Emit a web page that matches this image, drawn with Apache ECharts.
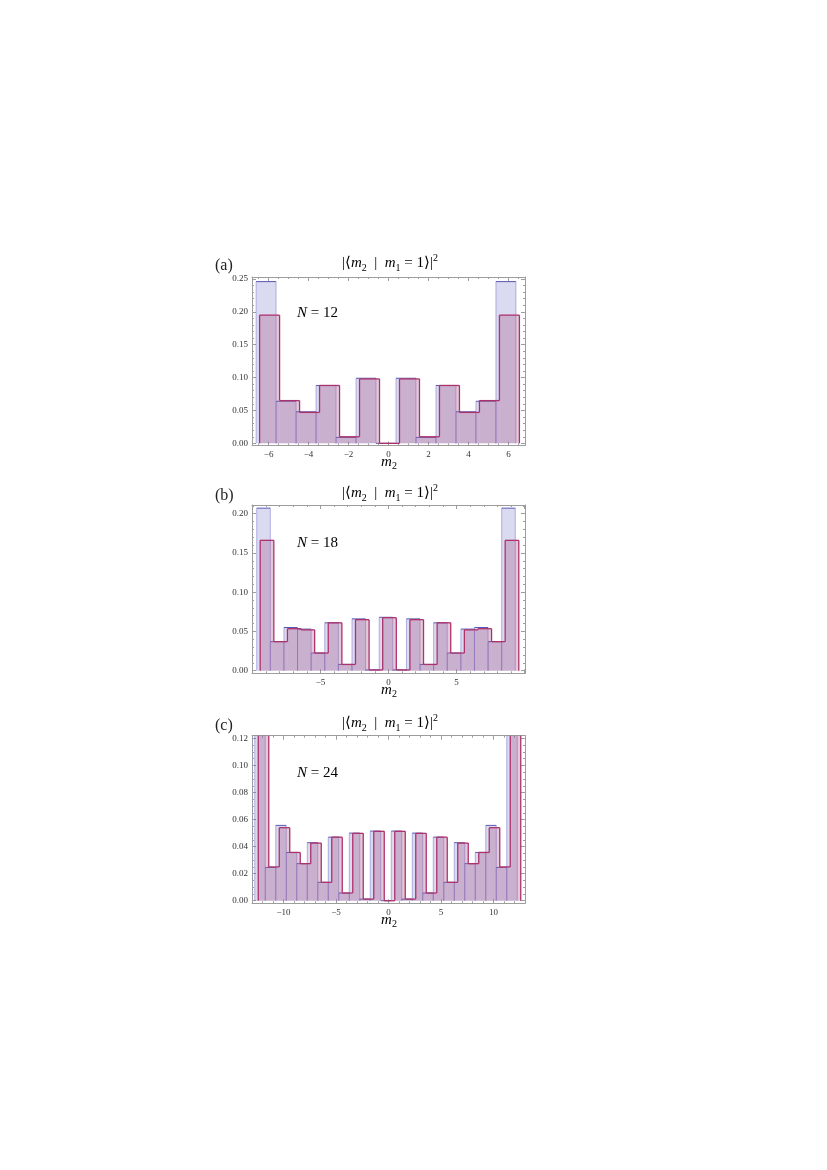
<!DOCTYPE html>
<html>
<head>
<meta charset="utf-8">
<script src="https://cdn.jsdelivr.net/npm/echarts@6.0.0/dist/echarts.min.js"></script>
<style>
  html, body { margin: 0; padding: 0; background: #fff; }
  #chart { width: 827px; height: 1170px; }
</style>
</head>
<body>
<div id="chart"></div>
<script>
// m2 bins and the two histograms (blue bars, red step) for each panel
const mA = [-6, -5, -4, -3, -2, -1, 0, 1, 2, 3, 4, 5, 6];
const blueA = [0.246, 0.064, 0.048, 0.088, 0.009, 0.099, 0.000, 0.099, 0.009, 0.088, 0.048, 0.064, 0.246];
const redA  = [0.195, 0.065, 0.047, 0.088, 0.010, 0.098, 0.000, 0.098, 0.010, 0.088, 0.047, 0.065, 0.195];

const mB = [-9, -8, -7, -6, -5, -4, -3, -2, -1, 0, 1, 2, 3, 4, 5, 6, 7, 8, 9];
const blueB = [0.207, 0.037, 0.055, 0.053, 0.0225, 0.061, 0.008, 0.066, 0.001, 0.068, 0.001, 0.066, 0.008, 0.061, 0.0225, 0.053, 0.055, 0.037, 0.207];
const redB  = [0.166, 0.037, 0.0535, 0.052, 0.0225, 0.061, 0.008, 0.065, 0.001, 0.0675, 0.001, 0.065, 0.008, 0.061, 0.0225, 0.052, 0.0535, 0.037, 0.166];

const mC = [-12, -11, -10, -9, -8, -7, -6, -5, -4, -3, -2, -1, 0, 1, 2, 3, 4, 5, 6, 7, 8, 9, 10, 11, 12];
const blueC = [0.16, 0.0246, 0.0557, 0.0357, 0.0274, 0.0429, 0.0136, 0.047, 0.0057, 0.050, 0.0012, 0.0515, 0.000, 0.0515, 0.0012, 0.050, 0.0057, 0.047, 0.0136, 0.0429, 0.0274, 0.0357, 0.0557, 0.0246, 0.16];
const redC  = [0.135, 0.025, 0.054, 0.0357, 0.0274, 0.0426, 0.0136, 0.047, 0.0057, 0.0498, 0.0012, 0.0513, 0.000, 0.0513, 0.0012, 0.0498, 0.0057, 0.047, 0.0136, 0.0426, 0.0274, 0.0357, 0.054, 0.025, 0.135];

// labelled ticks
const xTicksA = [-6, -4, -2, 0, 2, 4, 6];
const yTicksA = [0, 0.05, 0.10, 0.15, 0.20, 0.25];
const xTicksB = [-5, 0, 5];
const yTicksB = [0, 0.05, 0.10, 0.15, 0.20];
const xTicksC = [-10, -5, 0, 5, 10];
const yTicksC = [0, 0.02, 0.04, 0.06, 0.08, 0.10, 0.12];

const panelLabels = ['(a)', '(b)', '(c)'];
const nLabels = ['12', '18', '24'];

const SERIF = '"Liberation Serif", "DejaVu Serif", "Times New Roman", serif';
const FRAME = '#9d9d9d';
const BLUE_FILL = 'rgba(120,120,200,0.27)';
const BLUE_SIDE = 'rgba(100,100,200,0.45)';
const BLUE_TOP = '#5858b4';
const RED_FILL = 'rgba(170,90,140,0.33)';
const RED_LINE = '#ad326c';

// panel frames (px) and axis ranges
const panels = [
  { top: 277, height: 168.5, x: [-6.83, 6.83], y: [-0.0033, 0.253], xSplit: 7, ySplit: 5, xMinor: 4, yMinor: 5, xt: xTicksA, yt: yTicksA },
  { top: 505, height: 168.3, x: [-10.03, 10.03], y: [-0.0033, 0.211], xSplit: 4, ySplit: 4, xMinor: 5, yMinor: 5, xt: xTicksB, yt: yTicksB },
  { top: 735.7, height: 167.6, x: [-13, 13], y: [-0.0019, 0.122], xSplit: 5, ySplit: 6, xMinor: 5, yMinor: 4, xt: xTicksC, yt: yTicksC }
];
const GRID_LEFT = 252, GRID_W = 273;

const chart = echarts.init(document.getElementById('chart'));

const near = (list, v) => list.some(t => Math.abs(t - v) < 1e-9);
const fmtInt = v => (v < 0 ? '\u2212' + (-v) : String(v));

function axisBase(gi, min, max, split, minor) {
  return {
    type: 'value', gridIndex: gi, min: min, max: max, splitNumber: split,
    splitLine: { show: false },
    axisLine: { show: true, onZero: false, lineStyle: { color: FRAME, width: 1 } },
    axisTick: { show: true, inside: true, length: 4, lineStyle: { color: FRAME } },
    minorTick: { show: true, splitNumber: minor, length: 2, lineStyle: { color: FRAME } }
  };
}

const grids = [], xAxes = [], yAxes = [], series = [], graphics = [];

// blue histogram: one rect per bin, darker top edge
function blueBars(shift) {
  return function (params, api) {
    const m = api.value(0), v = api.value(1);
    const cs = params.coordSys;
    const a = api.coord([m - 0.5, v]);
    const b = api.coord([m + 0.5, 0]);
    const x0 = a[0] + shift, x1 = b[0] + shift;
    const top = Math.max(a[1], cs.y), y0 = b[1];
    const kids = [
      { type: 'rect', shape: { x: x0, y: top, width: x1 - x0, height: y0 - top }, style: { fill: BLUE_FILL } },
      { type: 'line', shape: { x1: x0, y1: top, x2: x0, y2: y0 }, style: { stroke: BLUE_SIDE, lineWidth: 1 } },
      { type: 'line', shape: { x1: x1, y1: top, x2: x1, y2: y0 }, style: { stroke: BLUE_SIDE, lineWidth: 1 } }
    ];
    if (a[1] >= cs.y) {
      kids.push({ type: 'line', z2: 5, shape: { x1: x0, y1: top, x2: x1, y2: top }, style: { stroke: BLUE_TOP, lineWidth: 1 } });
    }
    return { type: 'group', children: kids };
  };
}

// red histogram: filled bins with a continuous step outline
function redSteps(vals, shift) {
  return function (params, api) {
    const i = params.dataIndex;
    const m = api.value(0), v = api.value(1);
    const cs = params.coordSys;
    const prev = i > 0 ? vals[i - 1] : 0;
    const a = api.coord([m - 0.5, v]);
    const b = api.coord([m + 0.5, 0]);
    const yPrev = Math.max(api.coord([m - 0.5, prev])[1], cs.y);
    const x0 = a[0] + shift, x1 = b[0] + shift;
    const top = Math.max(a[1], cs.y), y0 = b[1];
    const kids = [
      { type: 'rect', shape: { x: x0, y: top, width: x1 - x0, height: y0 - top }, style: { fill: RED_FILL } },
      { type: 'line', z2: 10, shape: { x1: x0, y1: yPrev, x2: x0, y2: top }, style: { stroke: RED_LINE, lineWidth: 1.3 } }
    ];
    if (a[1] >= cs.y) {
      kids.push({ type: 'line', z2: 10, shape: { x1: x0, y1: top, x2: x1, y2: top }, style: { stroke: RED_LINE, lineWidth: 1.3 } });
    }
    if (i === vals.length - 1) {
      kids.push({ type: 'line', z2: 10, shape: { x1: x1, y1: top, x2: x1, y2: y0 }, style: { stroke: RED_LINE, lineWidth: 1.3 } });
    }
    return { type: 'group', children: kids };
  };
}

const dataSets = [[mA, blueA, redA], [mB, blueB, redB], [mC, blueC, redC]];

const titleRich = {
  n: { fontSize: 15, fontFamily: SERIF, lineHeight: 20, color: '#222' },
  i: { fontSize: 15, fontFamily: SERIF, fontStyle: 'italic', lineHeight: 20, color: '#222' },
  s: { fontSize: 10, fontFamily: SERIF, lineHeight: 12, verticalAlign: 'bottom', color: '#222' },
  p: { fontSize: 10, fontFamily: SERIF, lineHeight: 10, verticalAlign: 'top', color: '#222' }
};
const labelRich = {
  n: { fontSize: 15, fontFamily: SERIF, lineHeight: 18, color: '#222' },
  i: { fontSize: 15, fontFamily: SERIF, fontStyle: 'italic', lineHeight: 18, color: '#222' },
  s: { fontSize: 10, fontFamily: SERIF, lineHeight: 12, verticalAlign: 'bottom', color: '#222' }
};

panels.forEach((p, k) => {
  grids.push({ left: GRID_LEFT, top: p.top, width: GRID_W, height: p.height, show: false, containLabel: false });

  const xb = axisBase(k, p.x[0], p.x[1], p.xSplit, p.xMinor);
  xAxes.push(Object.assign({}, xb, {
    position: 'bottom',
    axisLabel: { show: true, margin: 5, fontSize: 9, fontFamily: SERIF, color: '#333',
      formatter: v => (near(p.xt, v) ? fmtInt(Math.round(v)) : '') }
  }));
  xAxes.push(Object.assign({}, xb, { position: 'top', axisLabel: { show: false } }));

  const yb = axisBase(k, p.y[0], p.y[1], p.ySplit, p.yMinor);
  yAxes.push(Object.assign({}, yb, {
    position: 'left',
    axisLabel: { show: true, margin: 4, fontSize: 9, fontFamily: SERIF, color: '#333',
      formatter: v => (near(p.yt, v) ? v.toFixed(2) : '') }
  }));
  yAxes.push(Object.assign({}, yb, { position: 'right', axisLabel: { show: false } }));

  const [ms, blue, red] = dataSets[k];
  series.push({
    type: 'custom', xAxisIndex: 2 * k, yAxisIndex: 2 * k, silent: true,
    renderItem: blueBars(-2.5),
    data: ms.map((m, i) => [m, blue[i]]), z: 2
  });
  series.push({
    type: 'custom', xAxisIndex: 2 * k, yAxisIndex: 2 * k, silent: true,
    renderItem: redSteps(red, 1),
    data: ms.map((m, i) => [m, red[i]]), z: 3
  });

  const titleY = [263, 493, 723][k];
  graphics.push({
    type: 'text', x: 390, y: titleY, silent: true,
    style: { text: '{n||\u27E8}{i|m}{s|2}{n|  |  }{i|m}{s|1}{n| = 1\u27E9|}{p|2}', rich: titleRich, align: 'center', verticalAlign: 'middle' }
  });
  graphics.push({
    type: 'text', x: 215, y: titleY + 3, silent: true,
    style: { text: panelLabels[k], font: '16px ' + SERIF, fill: '#222', align: 'left', verticalAlign: 'middle' }
  });
  graphics.push({
    type: 'text', x: 297, y: [313, 542.7, 772.7][k], silent: true,
    style: { text: '{i|N}{n| = ' + nLabels[k] + '}', rich: labelRich, align: 'left', verticalAlign: 'middle' }
  });
  graphics.push({
    type: 'text', x: 389, y: p.top + p.height + 17, silent: true,
    style: { text: '{i|m}{s|2}', rich: labelRich, align: 'center', verticalAlign: 'middle' }
  });
});

chart.setOption({
  backgroundColor: '#fff',
  animation: false,
  grid: grids,
  xAxis: xAxes,
  yAxis: yAxes,
  series: series,
  graphic: graphics
});
</script>
</body>
</html>
